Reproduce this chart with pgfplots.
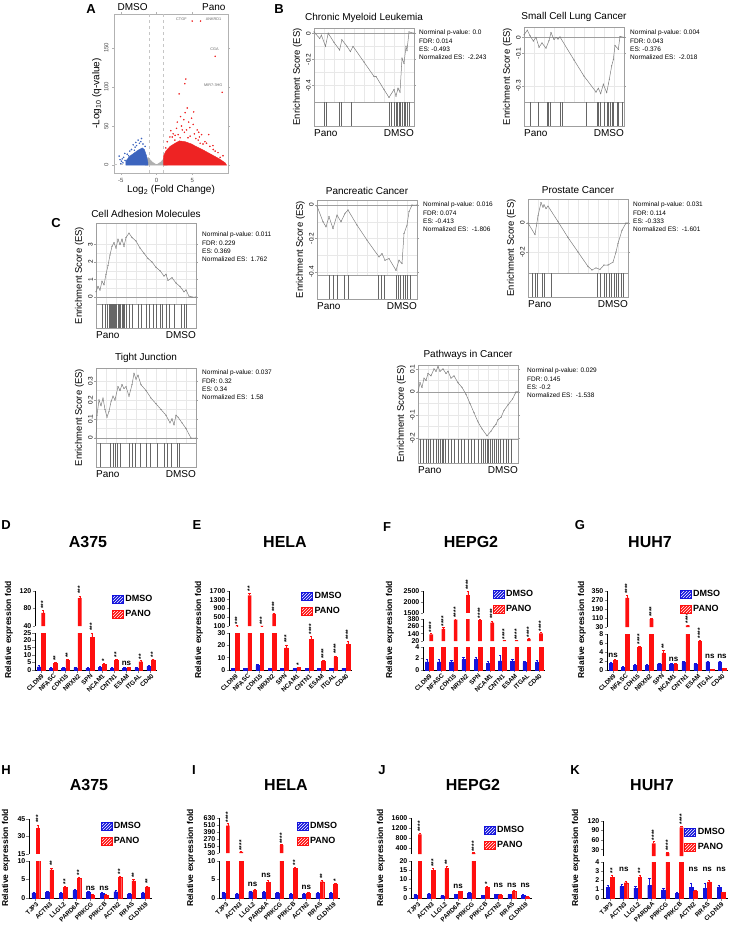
\documentclass[border=0pt]{standalone}
\usepackage{fontspec}
\setmainfont{Liberation Sans}
\usepackage{pgfplots}
\usepackage{pgfplotstable}
\pgfplotsset{compat=1.18}
\usetikzlibrary{calc,patterns}

\definecolor{vblue}{RGB}{60,100,190}
\definecolor{vred}{RGB}{238,35,35}
\definecolor{vgray}{RGB}{175,175,175}
\definecolor{dblue}{RGB}{20,20,220}
\definecolor{pred}{RGB}{255,15,15}
\definecolor{escol}{RGB}{125,125,125}
\newcommand{\fs}[1]{\fontsize{#1}{#1}\selectfont}

\tikzset{
  stv/.style={rotate=90, anchor=west, font=\bfseries\fs{6.5}, inner sep=0.5pt},
  nsl/.style={anchor=south, font=\bfseries\fs{8}, inner sep=0.5pt},
}
\pgfplotsset{
  gsea/.style={scale only axis, width=100pt, xmin=0, xmax=1, clip=false,
    axis line style={gray!75, line width=0.5pt},
    xtick={0,0.1,...,1}, xticklabels={}, xtick style={draw=none},
    minor y tick num=1, grid=both, minor tick length=0pt,
    major grid style={gray!18, line width=0.3pt},
    minor grid style={gray!18, line width=0.3pt},
    ytick style={gray!75, line width=0.4pt},
    major tick length=2pt, tick align=outside,
    yticklabel style={rotate=90, anchor=south, font=\fs{6.5}, inner sep=1pt},
    /pgf/number format/assume math mode=true,
    title style={font=\fs{10}, yshift=-4pt}},
  gbar/.style={scale only axis, width=100pt, height=24pt, xmin=0, xmax=1,
    ymin=0, ymax=1, axis line style={gray!75, line width=0.5pt}, ticks=none, clip=false},
  bbase/.style={scale only axis, xmin=-0.5, clip mode=individual,
    axis y line*=left, axis line style={line width=0.9pt},
    ytick style={line width=0.8pt}, tick align=outside, major tick length=2.5pt,
    ybar=0.6pt, bar width=3.6pt,
    yticklabel style={font=\bfseries\fs{7}, inner sep=1pt},
    /pgf/number format/assume math mode=true,
    /pgf/number format/1000 sep={}},
  blow/.style={bbase, axis x line*=bottom, xtick=data, xtick style={line width=0.8pt},
    xticklabel style={rotate=45, anchor=north east, font=\bfseries\fs{6.3}, inner sep=0.5pt}},
  bup/.style={bbase, axis x line=none,
    legend style={draw=none, fill=none, font=\bfseries\fs{9}, inner sep=0pt, row sep=3pt,
      anchor=north west},
    legend cell align=left,
    legend image code/.code={\draw[##1] (0pt,-4pt) rectangle (11pt,4pt);}},
  dser/.style={fill=dblue, draw=dblue, error bars/y dir=plus, error bars/y explicit,
    error bars/error bar style={dblue, line width=0.5pt},
    error bars/error mark options={rotate=90, mark size=1.2pt, dblue}},
  pser/.style={fill=pred, draw=pred, error bars/y dir=plus, error bars/y explicit,
    error bars/error bar style={pred, line width=0.5pt},
    error bars/error mark options={rotate=90, mark size=1.2pt, pred}},
}

% GSEA panel: x, y top, ES height, ymin, ymax, yticks, title, curve, hits
\newcommand{\gsea}[9]{%
  \begin{axis}[gsea, name=es, at={(#1pt,-#2pt)}, anchor=north west,
      height=#3pt, ymin=#4, ymax=#5, ytick={#6}, title={#7}]
    \addplot[gray!75, line width=0.6pt] coordinates {(0,0) (1,0)};
    \addplot[escol, line width=0.5pt, mark=*, mark size=0.2pt] coordinates {#8};
  \end{axis}
  \begin{axis}[gbar, name=bc, at={(es.south west)}, anchor=north west]
    \addplot[ycomb, black!60, line width=0.35pt, mark=none] coordinates {#9};
  \end{axis}
  \node[font=\fs{10}, anchor=north west, inner sep=0pt] at ([yshift=-3pt]bc.south west) {Pano};
  \node[font=\fs{10}, anchor=north east, inner sep=0pt] at ([yshift=-3pt]bc.south east) {DMSO};
  \node[font=\fs{9.5}, rotate=90, anchor=south, inner sep=0pt] at ($(es.north west)!0.5!(bc.south west)+(-12pt,0)$) {Enrichment Score (ES)};
}
\newcommand{\gstats}[6]{\node[font=\fontsize{6.5}{8.3}\selectfont, anchor=north west, align=left, inner sep=0pt] at (#1pt,-#2pt) {#3\\#4\\#5\\#6};}
\newcommand{\st}[3]{\node[stv] at (axis cs:#1,#2) {#3};}
\newcommand{\ns}[2]{\node[nsl] at (axis cs:#1,#2) {ns};}
\newcommand{\leg}{%
  \addlegendimage{fill=dblue, draw=dblue, postaction={pattern=north east lines, pattern color=white}}
  \addlegendentry{DMSO}
  \addlegendimage{fill=pred, draw=pred, postaction={pattern=north east lines, pattern color=white}}
  \addlegendentry{PANO}}
\newcommand{\ylab}[2]{\node[font=\bfseries\fs{8.5}, rotate=90] at (#1pt,-#2pt) {Relative expression fold};}
% the bars of one table, for an upper (broken-axis) segment starting at #2
\newcommand{\upbars}[2]{%
  \addplot[forget plot, dser, draw=none, restrict y to domain=#2:1e6] table[x=x,y=d,y error=de]{#1};
  \addplot[forget plot, pser, draw=none, restrict y to domain=#2:1e6] table[x=x,y=p,y error=pe]{#1};}
\newcommand{\lowbars}[1]{%
  \addplot[dser] table[x=x,y=d,y error=de]{#1};
  \addplot[pser] table[x=x,y=p,y error=pe]{#1};}

% ---------- bar data (mean, error) ----------
\pgfplotstableread{
x d de p pe
0 2.2 0.8 70 5
1 1.2 0.4 4.6 0.6
2 1.2 0.4 6.5 0.8
3 1.5 0.4 104 5
4 1.2 0.4 22 3
5 1.8 0.5 4.0 0.5
6 1.3 0.4 6.8 0.8
7 1.2 0.4 1.8 0.3
8 1.2 0.4 5.6 0.8
9 2.5 0.8 6.8 0.8
}\tD
\pgfplotstableread{
x d de p pe
0 1.3 0.3 110 10
1 1.3 0.3 1500 100
2 3.8 1.0 105 5
3 1.3 0.3 650 50
4 1.3 0.3 18 2.5
5 1.2 0.3 2.2 0.4
6 1.2 0.3 25 2.5
7 1.2 0.3 7 0.8
8 1.2 0.3 10.5 1
9 1.3 0.3 21 2
}\tE
\pgfplotstableread{
x d de p pe
0 1.4 0.4 130 15
1 1.4 0.4 220 20
2 1.4 0.3 370 20
3 1.8 0.5 2300 200
4 1.8 0.5 360 20
5 1.2 0.3 320 30
6 1.6 0.9 28 3
7 1.5 0.4 26 3
8 1.3 0.3 55 8
9 1.3 0.4 145 15
}\tF
\pgfplotstableread{
x d de p pe
0 1.5 0.3 2.2 0.2
1 0.6 0.2 290 25
2 1.1 0.2 5.1 0.2
3 1.0 0.2 100 10
4 1.4 0.2 3.8 0.5
5 1.3 0.2 1.3 0.2
6 1.7 0.2 45 5
7 1.3 0.2 6.3 0.3
8 1.8 0.2 0.1 0.05
9 1.8 0.2 0.3 0.1
}\tG
\pgfplotstableread{
x d de p pe
0 1.4 0.3 37 3
1 1.6 0.3 7.6 0.5
2 1.2 0.3 2.8 0.3
3 2.0 0.4 5.3 0.4
4 1.6 0.3 0.8 0.2
5 1.3 0.3 0.8 0.2
6 1.7 0.3 5.6 0.4
7 1.1 0.3 4.6 0.4
8 1.4 0.3 3.0 0.3
}\tH
\pgfplotstableread{
x d de p pe
0 1.4 0.3 500 40
1 1.1 0.2 50 5
2 1.6 0.3 2.0 0.3
3 1.6 0.3 4.3 0.4
4 1.2 0.3 165 10
5 1.0 0.2 8.0 0.4
6 1.1 0.2 1.3 0.2
7 1.2 0.3 4.4 0.3
8 1.3 0.3 3.8 0.3
}\tI
\pgfplotstableread{
x d de p pe
0 1.7 0.3 950 60
1 2.3 0.4 15 1
2 1.1 0.2 16 1
3 1.8 0.4 3.5 0.4
4 2.6 0.4 200 15
5 1.3 0.3 5.8 0.4
6 1.8 0.3 1.5 0.3
7 1.8 0.3 3.6 0.4
8 1.6 0.3 0.7 0.2
}\tJ
\pgfplotstableread{
x d de p pe
0 1.2 0.2 2.3 0.2
1 1.3 0.2 1.7 0.2
2 1.1 0.2 2.3 0.2
3 1.4 0.8 50 5
4 0.9 0.2 20 2
5 0.5 0.2 100 4
6 1.2 0.5 0.8 0.1
7 1.1 0.5 1.8 0.2
8 1.2 0.2 0.6 0.1
}\tK

\begin{document}
\begin{tikzpicture}
\useasboundingbox (0,0) rectangle (729pt,-936pt);

% ================= A: volcano =================
\node[font=\bfseries\fs{13}, anchor=center] at (91pt,-9pt) {A};
\node[font=\fs{10}, anchor=west] at (114pt,-7pt) {DMSO};
\node[font=\fs{10}, anchor=east] at (229pt,-7pt) {Pano};
\begin{axis}[scale only axis, at={(114pt,-14pt)}, anchor=north west, width=114pt, height=159pt,
  xmin=-5.95, xmax=10, ymin=-10, ymax=193, clip mode=individual,
  axis line style={gray!60}, tick style={gray!60}, major tick length=2pt, tick align=outside,
  xtick={-5,0,5}, ytick={0,50,100,150},
  ticklabel style={font=\fs{6}, text=black!70},
  yticklabel style={rotate=90, anchor=south},
  /pgf/number format/assume math mode=true,
  xlabel={Log\textsubscript{2} (Fold Change)}, ylabel={-Log\textsubscript{10} (q-value)},
  label style={font=\fs{10}}, xlabel style={yshift=4pt}, ylabel style={yshift=-4pt}]
  \addplot[dashed, gray!45, line width=0.4pt] coordinates {(-1,-10) (-1,193)};
  \addplot[dashed, gray!45, line width=0.4pt] coordinates {(1,-10) (1,193)};
  \addplot[dashed, gray!45, line width=0.4pt] coordinates {(-5.95,1.3) (10,1.3)};
  \addplot[fill=vgray, draw=vgray] coordinates {(-1.6,0) (-1.2,10) (-0.6,4) (0,0.5) (0.6,4) (1.2,10) (1.5,0)} -- cycle;
  \addplot[fill=vblue, draw=vblue] coordinates {(-4.3,0) (-4.3,5) (-3.8,11) (-3.2,15) (-2.6,19) (-2.0,22) (-1.7,20) (-1.4,12) (-1.2,3) (-1.2,0)} -- cycle;
  \addplot[fill=vred, draw=vred] coordinates {(1.0,0) (1.0,12) (1.3,18) (1.9,24) (2.6,28) (3.2,31) (4.0,30) (4.9,27) (5.5,24) (6.6,19) (7.8,13) (8.8,8) (9.6,3) (9.8,0)} -- cycle;
  \addplot[only marks, mark=*, mark size=0.55pt, vblue] coordinates {
    (-5.23,11.6) (-4.44,15) (-3.74,18) (-3.27,26) (-3.0,23) (-2.57,32) (-2.1,34) (-2.4,28) (-1.9,27)
    (-3.5,20) (-4.8,8) (-4.9,5) (-4.6,10) (-4.1,14) (-2.8,25) (-1.6,24) (-3.9,12) (-4.4,6) (-5.0,2)
    (-2.2,30) (-3.1,19) (-2.9,29) (-4.7,3) (-5.1,7)};
  \addplot[only marks, mark=*, mark size=0.55pt, vred] coordinates {
    (4.10,110) (3.96,104) (3.17,91) (4.29,73) (3.36,62) (3.82,58) (4.9,60) (5.13,52) (4.66,48) (5.69,45)
    (6.3,39) (7.3,39) (2.33,40) (3.03,39) (1.87,36) (2.56,32) (5.83,32) (6.77,30) (7.46,24) (7.93,20)
    (8.6,16) (9.3,12) (2.0,44) (2.8,47) (3.5,50) (4.2,45) (4.5,55) (5.3,40) (6.0,36) (2.2,36)
    (3.9,42) (4.7,37) (5.5,34) (6.5,27) (7.0,28) (8.2,18) (1.5,30) (3.3,35) (4.4,35) (6.1,28)
    (2.9,55) (5.9,42) (4.0,67) (3.6,45) (5.2,68) (7.9,25) (8.9,10) (1.3,22) (2.6,38)
    (4.99,184) (6.16,184) (8.2,139) (9.19,93)};
  \node[font=\fs{3.8}, text=black!60, anchor=east] at (axis cs:4.7,186) {CTGF};
  \node[font=\fs{3.8}, text=black!60, anchor=west] at (axis cs:6.4,186) {ANKRD1};
  \node[font=\fs{3.8}, text=black!60, anchor=south] at (axis cs:8.1,142) {CGA};
  \node[font=\fs{3.8}, text=black!60, anchor=south east] at (axis cs:9.7,96) {MIR7-3HG};
\end{axis}

% ================= B =================
\node[font=\bfseries\fs{13}] at (279pt,-9pt) {B};
\gsea{314}{28}{74}{-0.525}{0.04}{0,-0.2,-0.4}{Chronic Myeloid Leukemia}
  {(0,0.01) (0.057,-0.04) (0.074,-0.015) (0.115,-0.1) (0.142,0) (0.2,-0.07) (0.256,-0.128) (0.279,-0.05)
   (0.33,-0.1) (0.364,-0.14) (0.39,-0.1) (0.5,-0.22) (0.6,-0.33) (0.62,-0.33) (0.7,-0.43) (0.75,-0.49)
   (0.8,-0.43) (0.82,-0.48) (0.84,-0.42) (0.86,-0.45) (0.88,-0.19) (0.9,-0.23) (0.92,-0.1) (0.93,-0.13) (0.95,0.01) (1,0)}
  {(0.101,1) (0.121,1) (0.256,1) (0.269,1) (0.37,1) (0.75,1) (0.774,1) (0.8,1) (0.818,1) (0.835,1)
   (0.85,1) (0.865,1) (0.88,1) (0.9,1) (0.916,1) (0.93,1) (0.95,1)}
\gstats{419}{30}{Norminal p-value: 0.0}{FDR: 0.014}{ES: -0.493}{Normalized ES:\ \ -2.243}

\gsea{524}{27}{75}{-0.40}{0.064}{0,-0.1,-0.3}{Small Cell Lung Cancer}
  {(0,0.015) (0.033,0.044) (0.06,0.01) (0.093,-0.023) (0.12,0.0) (0.15,-0.061) (0.18,-0.035) (0.22,-0.067)
   (0.25,-0.02) (0.27,0.029) (0.3,-0.013) (0.32,0.0) (0.34,-0.01) (0.36,0.002) (0.5,-0.14) (0.6,-0.24)
   (0.72,-0.338) (0.743,-0.315) (0.767,-0.348) (0.793,-0.29) (0.827,-0.342) (0.853,-0.26) (0.877,-0.176)
   (0.893,-0.138) (0.91,-0.05) (0.943,-0.074) (0.96,0.006) (1,0)}
  {(0.06,1) (0.143,1) (0.227,1) (0.243,1) (0.26,1) (0.36,1) (0.377,1) (0.62,1) (0.727,1) (0.743,1)
   (0.76,1) (0.8,1) (0.827,1) (0.843,1) (0.86,1) (0.877,1) (0.893,1) (0.927,1) (0.943,1) (0.977,1)}
\gstats{630}{30}{Norminal p-value: 0.004}{FDR: 0.043}{ES: -0.376}{Normalized ES:\ \ -2.018}

\gsea{317}{200}{75}{-0.418}{0.03}{0,-0.2,-0.4}{Pancreatic Cancer}
  {(0,-0.006) (0.06,-0.1) (0.09,-0.13) (0.12,-0.07) (0.16,-0.14) (0.2,-0.06) (0.24,-0.1) (0.28,-0.05) (0.31,-0.03)
   (0.4,-0.12) (0.5,-0.21) (0.62,-0.31) (0.65,-0.29) (0.68,-0.33) (0.72,-0.32) (0.79,-0.39) (0.82,-0.33)
   (0.85,-0.35) (0.87,-0.17) (0.9,-0.12) (0.92,-0.04) (0.95,0.0) (1,0)}
  {(0.125,1) (0.159,1) (0.206,1) (0.267,1) (0.314,1) (0.612,1) (0.645,1) (0.668,1) (0.787,1) (0.81,1)
   (0.833,1) (0.857,1) (0.88,1) (0.904,1) (0.928,1)}
\gstats{423}{202}{Norminal p-value: 0.016}{FDR: 0.074}{ES: -0.413}{Normalized ES:\ \ -1.806}

\gsea{528}{199}{74}{-0.345}{0.166}{0,-0.2}{Prostate Cancer}
  {(0,0) (0.07,-0.08) (0.1,0.05) (0.13,0.14) (0.15,0.11) (0.16,0.125) (0.18,0.1) (0.2,0.117)
   (0.3,0.01) (0.4,-0.1) (0.5,-0.2) (0.6,-0.3) (0.64,-0.324) (0.68,-0.31) (0.72,-0.32) (0.76,-0.29)
   (0.8,-0.29) (0.85,-0.27) (0.88,-0.2) (0.9,-0.14) (0.94,-0.05) (0.98,0.0) (1,0)}
  {(0.043,1) (0.067,1) (0.09,1) (0.138,1) (0.162,1) (0.233,1) (0.688,1) (0.72,1) (0.76,1) (0.785,1)
   (0.81,1) (0.83,1) (0.857,1) (0.88,1) (0.905,1) (0.929,1) (0.953,1)}
\gstats{633}{202}{Norminal p-value: 0.031}{FDR: 0.114}{ES: -0.333}{Normalized ES:\ \ -1.601}

% ================= C =================
\node[font=\bfseries\fs{13}] at (56pt,-223pt) {C};
\gsea{96}{223}{81}{-0.4}{4.23}{0,1,2,3}{Cell Adhesion Molecules}
  {(0,0.3) (0.02,0.6) (0.04,0.4) (0.06,0.9) (0.08,0.7) (0.1,1.3) (0.12,1.8) (0.14,2.4) (0.16,2.9) (0.18,3.1)
   (0.2,2.8) (0.22,3.3) (0.24,3.0) (0.26,3.3) (0.28,2.9) (0.3,3.4) (0.33,3.65) (0.36,3.4) (0.4,3.2) (0.44,2.8)
   (0.48,2.5) (0.52,2.2) (0.56,2.0) (0.6,1.7) (0.64,1.5) (0.68,1.2) (0.7,1.3) (0.72,0.95) (0.76,1.1) (0.8,0.8)
   (0.84,0.6) (0.88,0.3) (0.9,0.4) (0.93,0.05) (0.96,0) (1,0)}
  {(0.06,1) (0.09,1) (0.11,1) (0.13,1) (0.14,1) (0.15,1) (0.16,1) (0.17,1) (0.18,1) (0.19,1) (0.2,1)
   (0.22,1) (0.23,1) (0.24,1) (0.26,1) (0.27,1) (0.28,1) (0.3,1) (0.33,1) (0.36,1) (0.42,1) (0.45,1)
   (0.5,1) (0.53,1) (0.57,1) (0.6,1) (0.64,1) (0.66,1) (0.7,1) (0.73,1) (0.78,1) (0.85,1) (0.88,1) (0.9,1)}
\gstats{202}{232}{Norminal p-value: 0.011}{FDR: 0.229}{ES: 0.369}{Normalized ES:\ \ 1.762}

\gsea{96}{368}{75}{-0.026}{0.368}{0,0.1,0.2,0.3}{Tight Junction}
  {(0,0) (0.01,0.12) (0.03,0.2) (0.05,0.17) (0.07,0.21) (0.09,0.15) (0.11,0.11) (0.13,0.14) (0.15,0.19)
   (0.17,0.22) (0.19,0.2) (0.22,0.27) (0.24,0.25) (0.26,0.28) (0.28,0.26) (0.3,0.27) (0.33,0.22) (0.36,0.28)
   (0.38,0.34) (0.4,0.31) (0.42,0.33) (0.45,0.28) (0.5,0.25) (0.55,0.21) (0.6,0.18) (0.65,0.15) (0.7,0.12)
   (0.74,0.08) (0.76,0.1) (0.78,0.07) (0.8,0.12) (0.82,0.11) (0.86,0.08) (0.9,0.05) (0.95,0) (1,0)}
  {(0.04,1) (0.141,1) (0.168,1) (0.192,1) (0.215,1) (0.242,1) (0.327,1) (0.36,1) (0.394,1) (0.444,1)
   (0.505,1) (0.545,1) (0.613,1) (0.68,1) (0.714,1) (0.754,1) (0.815,1) (0.832,1)}
\gstats{202}{370}{Norminal p-value: 0.037}{FDR: 0.32}{ES: 0.34}{Normalized ES:\ \ 1.58}

\gsea{418}{365}{74}{-0.204}{0.117}{0.1,0,-0.1,-0.2}{Pathways in Cancer}
  {(0,0) (0.02,0.04) (0.04,0.02) (0.06,0.06) (0.08,0.05) (0.1,0.08) (0.13,0.07) (0.16,0.1) (0.18,0.09)
   (0.2,0.11) (0.22,0.09) (0.25,0.1) (0.28,0.08) (0.3,0.09) (0.33,0.06) (0.36,0.07) (0.4,0.04) (0.44,0.02)
   (0.48,-0.01) (0.52,-0.05) (0.56,-0.09) (0.6,-0.13) (0.64,-0.16) (0.69,-0.19) (0.73,-0.17) (0.76,-0.15)
   (0.78,-0.14) (0.8,-0.12) (0.83,-0.11) (0.86,-0.08) (0.9,-0.056) (0.946,-0.03) (0.98,0) (1,0)}
  {(0.02,1) (0.05,1) (0.08,1) (0.1,1) (0.12,1) (0.15,1) (0.18,1) (0.2,1) (0.22,1) (0.24,1) (0.25,1)
   (0.27,1) (0.3,1) (0.33,1) (0.36,1) (0.4,1) (0.43,1) (0.46,1) (0.5,1) (0.53,1) (0.56,1) (0.6,1)
   (0.63,1) (0.65,1) (0.67,1) (0.69,1) (0.7,1) (0.72,1) (0.74,1) (0.76,1) (0.78,1) (0.8,1) (0.82,1)
   (0.85,1) (0.88,1) (0.9,1) (0.93,1)}
\gstats{527}{368}{Norminal p-value: 0.029}{FDR: 0.145}{ES: -0.2}{Normalized ES:\ \ -1.538}

% ================= D-G =================
\node[font=\bfseries\fs{13}] at (6pt,-525pt) {D};
\node[font=\bfseries\fs{16}] at (88pt,-542pt) {A375};
\ylab{9}{630}
\begin{axis}[blow, at={(35pt,-670pt)}, anchor=south west, width=122pt, height=37pt,
  xmax=9.5, ymin=0, ymax=25, ytick={0,5,...,25},
  xticklabels={CLDN9,NFASC,CDH15,NRXN2,SPN,NCAM1,CNTN1,ESAM,ITGAL,CD40}]
  \lowbars{\tD}
  \st{1.17}{5.8}{**} \st{2.17}{7.8}{**} \st{4.17}{26}{***} \st{5.17}{5}{*} \st{6.17}{8}{**} \ns{7}{2.6} \st{8.17}{6.8}{**} \st{9.17}{8}{**}
\end{axis}
\begin{axis}[bup, at={(35pt,-626pt)}, anchor=south west, width=122pt, height=35pt,
  xmax=9.5, ymin=40, ymax=120, ytick={40,80,120},
  legend style={at={(0.63,0.94)}}]
  \upbars{\tD}{40}
  \leg
  \st{0.17}{78}{***} \st{3.17}{112}{***}
\end{axis}

\node[font=\bfseries\fs{13}] at (197pt,-525pt) {E};
\node[font=\bfseries\fs{16}] at (285pt,-542pt) {HELA};
\ylab{199}{630}
\begin{axis}[blow, at={(229pt,-670pt)}, anchor=south west, width=123pt, height=37pt,
  xmax=9.5, ymin=0, ymax=30, ytick={0,10,20,30},
  xticklabels={CLDN9,NFASC,CDH15,NRXN2,SPN,NCAM1,CNTN1,ESAM,ITGAL,CD40}]
  \lowbars{\tE}
  \st{4.17}{21.5}{***} \st{5.17}{3}{*} \st{6.17}{28.5}{****} \st{7.17}{8.5}{****} \st{8.17}{12.5}{****} \st{9.17}{24}{****}
\end{axis}
\begin{axis}[bup, at={(229pt,-626pt)}, anchor=south west, width=123pt, height=35pt,
  xmax=9.5, ymin=100, ymax=1700, ytick={100,500,900,1300,1700},
  legend style={at={(0.585,1.03)}}]
  \upbars{\tE}{100}
  \leg
  \st{0.17}{140}{***} \st{1.17}{1650}{**} \st{2.17}{130}{***} \st{3.17}{720}{****}
\end{axis}

\node[font=\bfseries\fs{13}] at (387pt,-527pt) {F};
\node[font=\bfseries\fs{16}] at (471pt,-542pt) {HEPG2};
\ylab{390}{630}
\begin{axis}[blow, at={(423pt,-670pt)}, anchor=south west, width=122pt, height=23pt,
  xmax=9.5, ymin=0, ymax=4, ytick={0,2,4},
  xticklabels={CLDN9,NFASC,CDH15,NRXN2,SPN,NCAM1,CNTN1,ESAM,ITGAL,CD40}]
  \lowbars{\tF}
\end{axis}
\begin{axis}[bup, at={(423pt,-641pt)}, anchor=south west, width=122pt, height=22pt,
  xmax=9.5, ymin=20, ymax=380, ytick={20,140,260,380}]
  \upbars{\tF}{20}
  \st{0.17}{155}{****} \st{1.17}{250}{****} \st{2.17}{392}{****} \st{4.17}{385}{****} \st{5.17}{370}{****}
  \st{6.17}{34}{****} \st{7.17}{32}{****} \st{8.17}{68}{****} \st{9.17}{165}{****}
\end{axis}
\begin{axis}[bup, at={(423pt,-613pt)}, anchor=south west, width=122pt, height=22pt,
  xmax=9.5, ymin=1500, ymax=2500, ytick={1500,2000,2500},
  legend style={at={(0.57,1.14)}}]
  \upbars{\tF}{1500}
  \leg
  \st{3.17}{2520}{****}
\end{axis}

\node[font=\bfseries\fs{13}] at (580pt,-525pt) {G};
\node[font=\bfseries\fs{16}] at (650pt,-542pt) {HUH7};
\ylab{582}{630}
\begin{axis}[blow, at={(607pt,-670pt)}, anchor=south west, width=121pt, height=36pt,
  xmax=9.5, ymin=0, ymax=8, ytick={0,2,...,8},
  xticklabels={CLDN9,NFASC,CDH15,NRXN2,SPN,NCAM1,CNTN1,ESAM,ITGAL,CD40}]
  \lowbars{\tG}
  \ns{0}{2.7} \st{2.17}{5.6}{****} \st{4.17}{4.6}{**} \ns{5}{1.8} \st{7.17}{6.9}{****} \ns{8}{2.3} \ns{9}{2.3}
\end{axis}
\begin{axis}[bup, at={(607pt,-627pt)}, anchor=south west, width=121pt, height=36pt,
  xmax=9.5, ymin=30, ymax=350, ytick={30,110,190,270,350},
  legend style={at={(0.6,1.08)}}]
  \upbars{\tG}{30}
  \leg
  \st{1.17}{320}{****} \st{3.17}{115}{****} \st{6.17}{55}{****}
\end{axis}

% ================= H-K =================
\node[font=\bfseries\fs{13}] at (6pt,-770pt) {H};
\node[font=\bfseries\fs{16}] at (89pt,-785pt) {A375};
\ylab{6}{858}
\begin{axis}[blow, at={(29pt,-898pt)}, anchor=south west, width=123pt, height=37pt,
  xmax=8.5, ymin=0, ymax=10, ytick={0,5,10},
  xticklabels={TJP3,ACTN3,LLGL2,PARD6A,PRKCG,PRKCB,ACTN2,RRAS,CLDN19}]
  \lowbars{\tH}
  \st{1.17}{8.5}{**} \st{2.17}{3.5}{**} \st{3.17}{6}{**} \ns{4}{1.8} \ns{5}{1.8} \st{6.17}{6.3}{**} \st{7.17}{5.3}{**} \st{8.17}{3.6}{**}
\end{axis}
\begin{axis}[bup, at={(29pt,-854pt)}, anchor=south west, width=123pt, height=35pt,
  xmax=8.5, ymin=15, ymax=45, ytick={15,30,45},
  legend style={at={(0.58,0.97)}}]
  \upbars{\tH}{15}
  \leg
  \st{0.17}{41}{***}
\end{axis}

\node[font=\bfseries\fs{13}] at (194pt,-770pt) {I};
\node[font=\bfseries\fs{16}] at (286pt,-785pt) {HELA};
\ylab{191}{858}
\begin{axis}[blow, at={(219pt,-898pt)}, anchor=south west, width=121pt, height=37pt,
  xmax=8.5, ymin=0, ymax=10, ytick={0,5,10},
  xticklabels={TJP3,ACTN3,LLGL2,PARD6A,PRKCG,PRKCB,ACTN2,RRAS,CLDN19}]
  \lowbars{\tI}
  \ns{2}{2.8} \ns{3}{5.2} \st{5.17}{8.6}{**} \ns{6}{2} \st{7.17}{5}{**} \st{8.17}{4.3}{*}
\end{axis}
\begin{axis}[bup, at={(219pt,-853pt)}, anchor=south west, width=121pt, height=35pt,
  xmax=8.5, ymin=30, ymax=630, ytick={30,150,270,390,510,630},
  legend style={at={(0.64,0.94)}}]
  \upbars{\tI}{30}
  \leg
  \st{0.17}{545}{****} \st{1.17}{60}{****} \st{4.17}{180}{****}
\end{axis}

\node[font=\bfseries\fs{13}] at (382pt,-770pt) {J};
\node[font=\bfseries\fs{16}] at (473pt,-785pt) {HEPG2};
\ylab{381}{858}
\begin{axis}[blow, at={(411pt,-898pt)}, anchor=south west, width=121pt, height=37pt,
  xmax=8.5, ymin=0, ymax=20, ytick={0,5,...,20},
  xticklabels={TJP3,ACTN3,LLGL2,PARD6A,PRKCG,PRKCB,ACTN2,RRAS,CLDN19}]
  \lowbars{\tJ}
  \st{1.17}{16.5}{***} \st{2.17}{17.5}{**} \ns{3}{4.5} \st{5.17}{6.7}{*} \ns{6}{5} \ns{7}{5} \ns{8}{5}
\end{axis}
\begin{axis}[bup, at={(411pt,-854pt)}, anchor=south west, width=121pt, height=36pt,
  xmax=8.5, ymin=160, ymax=1600, ytick={400,800,1200,1600},
  legend style={at={(0.6,0.83)}}]
  \upbars{\tJ}{160}
  \leg
  \st{0.17}{1030}{****} \st{4.17}{230}{****}
\end{axis}

\node[font=\bfseries\fs{13}] at (575pt,-770pt) {K};
\node[font=\bfseries\fs{16}] at (652pt,-785pt) {HUH7};
\ylab{576}{858}
\begin{axis}[blow, at={(603pt,-898pt)}, anchor=south west, width=125pt, height=36pt,
  xmax=8.5, ymin=0, ymax=4, ytick={0,1,2,3,4},
  xticklabels={TJP3,ACTN3,LLGL2,PARD6A,PRKCG,PRKCB,ACTN2,RRAS,CLDN19}]
  \lowbars{\tK}
  \st{0.17}{2.7}{**} \ns{1}{2.9} \st{2.17}{2.7}{**} \ns{6}{2.9} \ns{7}{2.9} \ns{8}{2.9}
\end{axis}
\begin{axis}[bup, at={(603pt,-856pt)}, anchor=south west, width=125pt, height=35pt,
  xmax=8.5, ymin=10, ymax=120, ytick={30,60,90,120},
  legend style={at={(0.65,0.85)}}]
  \upbars{\tK}{10}
  \leg
  \st{3.17}{58}{****} \st{4.17}{25}{****} \st{5.17}{107}{****}
\end{axis}
\end{tikzpicture}
\end{document}
